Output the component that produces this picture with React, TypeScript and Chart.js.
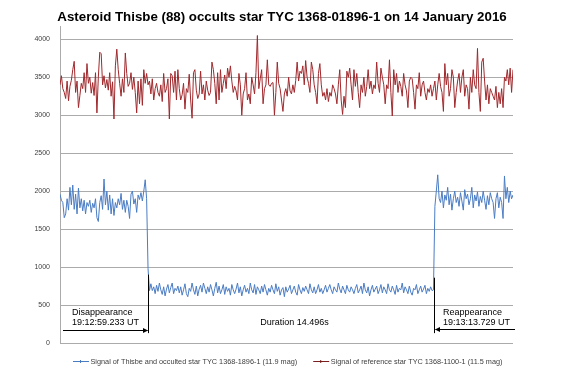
import React, { useEffect, useRef } from 'react';
import { Chart, registerables } from 'chart.js';

Chart.register(...registerables);

const TITLE = 'Asteroid Thisbe (88) occults star TYC 1368-01896-1 on 14 January 2016';
const TARGET_LABEL = 'Signal of Thisbe and occulted star TYC 1368-1896-1 (11.9 mag)';
const REFERENCE_LABEL = 'Signal of reference star TYC 1368-1100-1 (11.5 mag)';
const Y_TICKS = [0, 500, 1000, 1500, 2000, 2500, 3000, 3500, 4000];

// Target star signal before disappearance (frames 0-63)
const targetBefore = [
  1960, 1880, 1850, 1650, 1700, 1900, 1750, 2050, 1820, 2080,
  1760, 1960, 1700, 2040, 1780, 1900, 1740, 1880, 1700, 1850,
  1800, 1880, 1720, 1840, 1780, 1900, 1650, 1600, 1850, 1940,
  1760, 2160, 1820, 2000, 1750, 1950, 1700, 1900, 1680, 1850,
  1780, 1900, 1820, 1970, 1760, 1880, 1720, 1880, 1800, 1640,
  1960, 2000, 1830, 1900, 1720, 1950, 1890, 1980, 1870, 2000,
  2150, 1900, 980, 690,
];

// During occultation (frames 64-263)
const targetDuring = [
  780, 690, 740, 650, 760, 680, 790, 700, 640, 740, 620, 710, 770, 660, 730, 790, 650, 720, 690, 750,
  660, 740, 630, 700, 780, 650, 610, 720, 680, 790, 700, 640, 750, 620, 710, 760, 670, 790, 720, 650,
  740, 670, 770, 700, 620, 720, 800, 660, 750, 650, 700, 770, 640, 740, 680, 720, 630, 770, 700, 650,
  710, 790, 660, 740, 620, 700, 760, 670, 720, 650, 790, 700, 660, 770, 640, 740, 700, 650, 750, 670,
  770, 700, 630, 720, 670, 760, 700, 650, 780, 680, 740, 630, 700, 730, 610, 740, 670, 710, 760, 650,
  700, 750, 670, 630, 770, 700, 650, 730, 680, 750, 700, 650, 780, 700, 660, 740, 650, 700, 770, 670,
  720, 650, 700, 760, 670, 720, 770, 700, 650, 740, 700, 670, 790, 710, 660, 750, 700, 650, 760, 700,
  670, 740, 700, 650, 720, 770, 660, 700, 750, 650, 790, 700, 660, 740, 620, 700, 760, 670, 710, 750,
  650, 700, 770, 660, 740, 700, 650, 780, 700, 670, 750, 700, 640, 760, 670, 720, 700, 790, 660, 740,
  700, 650, 750, 670, 630, 720, 700, 770, 650, 700, 750, 670, 710, 760, 650, 720, 680, 740, 690, 700,
];

// After reappearance (frames 264-319)
const targetAfter = [
  1800, 2000, 2215,
  1900, 1850, 2000, 1780, 1950, 1880, 2050, 1820, 1960, 1750, 1900, 2000, 1850, 1920, 1800, 1980, 1870, 1750, 2020, 1900,
  1960, 1820, 1900, 2050, 1780, 1950, 1870, 1990, 1800, 1930, 1850, 2000, 1880, 1760, 1940, 1820, 1980, 1900, 1850,
  1640, 1900, 1980, 1780, 1920, 1850, 1640, 2200, 1900, 2050, 1850, 2000, 1900, 1950,
];

// Reference star signal (frames 0-319)
const referenceSignal = [
  3400, 3520, 3350, 3300, 3220, 3450, 3190, 3380, 3460, 3600, 3710, 3300, 3450, 3100, 3260, 3420, 3350, 3560, 3300, 3680,
  3420, 3500, 3290, 3430, 3260, 3560, 3030, 3500, 3830, 3810, 3400, 3520, 3360, 3470, 3330, 3560, 3250, 3440, 2950, 3650,
  3870, 3600, 3420, 3250, 3480, 3300, 3820, 3550, 3380, 3420, 3560, 3340, 3500, 3300, 3030, 3450, 3150, 3480, 3130, 3600,
  3420, 3550, 3400, 3450, 3280, 3480, 3200, 3350, 3420, 3300, 3250, 3400, 3180, 3550, 3300, 3350, 3480, 2950, 3550, 3520,
  3300, 3580, 3200, 3600, 3350, 3200, 3270, 3420, 3080, 3350, 3300, 3540, 3200, 2960, 3560, 3600, 3330, 3220, 3280, 3580,
  3280, 3400, 3200, 3450, 3330, 3260, 3300, 3700, 3600, 3420, 3150, 3560, 3200, 3600, 3300, 3420, 3530, 3350, 3620, 3500,
  3650, 3450, 3300, 3380, 3320, 3200, 3550, 3400, 3000, 3280, 3350, 3560, 3200, 3280, 3150, 3500, 3400, 3280, 3560, 4050,
  3350, 3480, 3600, 3150, 3350, 3400, 3730, 3400, 3380, 3420, 3430, 3000, 3300, 3700, 3420, 3350, 3200, 3050, 3280, 3350,
  3250, 3500, 3320, 3280, 3400, 3300, 3460, 3700, 3450, 3580, 3550, 3650, 3400, 3720, 3500, 3420, 3300, 3700, 3600, 3400,
  3300, 3150, 3550, 3680, 3400, 3250, 3300, 3200, 3350, 3180, 3300, 3250, 3400, 3350, 3280, 3150, 3400, 3600, 3200, 3010,
  3250, 3100, 3580, 3500, 3620, 3400, 3200, 3600, 3380, 3550, 3300, 3100, 3400, 3300, 3500, 3250, 3380, 3600, 3350, 3450,
  3280, 3400, 3350, 3700, 3420, 3300, 3620, 3500, 3400, 3150, 3400, 3350, 3730, 3300, 2990, 3600, 3400, 3550, 3300, 3450,
  3380, 3250, 3550, 3400, 3320, 3100, 3450, 3500, 3480, 3300, 3080, 3400, 3350, 3560, 3250, 3400, 3450, 3300, 3200, 3350,
  3300, 3400, 3250, 3350, 3450, 3200, 3400, 3550, 3380, 3300, 3050, 3680, 3400, 3550, 3250, 3350, 3600, 3500, 3100, 3300,
  3450, 3550, 3300, 3500, 3600, 3250, 3400, 3350, 3080, 3500, 3300, 3600, 3400, 3350, 3880, 3300, 3050, 3700, 3750, 3450,
  3200, 3400, 3150, 3350, 3300, 3250, 3200, 3380, 3100, 3300, 3150, 3350, 3100, 3500, 3450, 3600, 3400, 3620, 3300, 3600,
];

const targetSignal = [...targetBefore, ...targetDuring, ...targetAfter];
const frames = referenceSignal.map((_, i) => i);

// Event annotations (frame index, texts)
const DISAPPEARANCE_FRAME = 61.8;
const REAPPEARANCE_FRAME = 263.6;
const DISAPPEARANCE_TEXT = ['Disappearance', '19:12:59.233 UT'];
const REAPPEARANCE_TEXT = ['Reappearance', '19:13:13.729 UT'];
const DURATION_TEXT = 'Duration 14.496s';

const BLUE = '#4A7CC4';
const RED = '#A0282C';

function arrowHead(ctx: CanvasRenderingContext2D, x: number, y: number, dir: number) {
  ctx.beginPath();
  ctx.moveTo(x, y);
  ctx.lineTo(x - dir * 5, y - 2.5);
  ctx.lineTo(x - dir * 5, y + 2.5);
  ctx.closePath();
  ctx.fill();
}

const overlayPlugin = {
  id: 'overlay',
  afterDraw(chart: any) {
    const { ctx, scales } = chart;
    const xs = scales.x;
    const ys = scales.y;
    ctx.save();

    // Title
    ctx.fillStyle = '#000';
    ctx.font = 'bold 13.3px "Liberation Sans", Arial, sans-serif';
    ctx.textAlign = 'center';
    ctx.textBaseline = 'middle';
    ctx.fillText(TITLE, 282, 17);

    // Event markers
    const xd = Math.round(xs.getPixelForValue(DISAPPEARANCE_FRAME)) + 0.5;
    const xr = Math.round(xs.getPixelForValue(REAPPEARANCE_FRAME)) + 0.5;
    ctx.strokeStyle = '#000';
    ctx.fillStyle = '#000';
    ctx.lineWidth = 1;
    ctx.beginPath();
    ctx.moveTo(xd, ys.getPixelForValue(900));
    ctx.lineTo(xd, ys.getPixelForValue(130));
    ctx.moveTo(xr, ys.getPixelForValue(860));
    ctx.lineTo(xr, ys.getPixelForValue(130));
    const yl = Math.round(ys.getPixelForValue(166)) + 0.5;
    const yr = Math.round(ys.getPixelForValue(188)) + 0.5;
    ctx.moveTo(chart.chartArea.left + 3, yl);
    ctx.lineTo(xd - 1, yl);
    ctx.moveTo(chart.chartArea.right + 2, yr);
    ctx.lineTo(xr + 1, yr);
    ctx.stroke();
    arrowHead(ctx, xd - 0.5, yl, 1);
    arrowHead(ctx, xr + 0.5, yr, -1);

    ctx.font = '9px "Liberation Sans", Arial, sans-serif';
    ctx.textAlign = 'left';
    const y1 = ys.getPixelForValue(398);
    const y2 = ys.getPixelForValue(267);
    ctx.fillText(DISAPPEARANCE_TEXT[0], chart.chartArea.left + 12, y1);
    ctx.fillText(DISAPPEARANCE_TEXT[1], chart.chartArea.left + 12, y2);
    ctx.fillText(REAPPEARANCE_TEXT[0], xr + 8.5, y1);
    ctx.fillText(REAPPEARANCE_TEXT[1], xr + 8.5, y2);
    ctx.textAlign = 'center';
    ctx.fillText(DURATION_TEXT, (xd + xr) / 2 + 3, y2);

    // Legend
    ctx.font = '7.3px "Liberation Sans", Arial, sans-serif';
    ctx.textAlign = 'left';
    const ly = 361;
    const items = [
      { label: chart.data.datasets[0].label, color: BLUE },
      { label: chart.data.datasets[1].label, color: '#7A1E1E' },
    ];
    let lx = 73;
    items.forEach((it) => {
      ctx.strokeStyle = it.color;
      ctx.beginPath();
      ctx.moveTo(lx, ly + 0.5);
      ctx.lineTo(lx + 16, ly + 0.5);
      ctx.stroke();
      ctx.fillStyle = it.color;
      ctx.fillRect(lx + 7, ly - 1, 1, 3);
      ctx.fillStyle = '#404040';
      ctx.fillText(it.label, lx + 17.5, ly + 0.5);
      lx += 17.5 + ctx.measureText(it.label).width + 16;
    });

    ctx.restore();
  },
};

export default function App() {
  const ref = useRef<HTMLCanvasElement>(null);

  useEffect(() => {
    if (!ref.current) return;
    const chart = new Chart(ref.current, {
      type: 'line',
      data: {
        labels: frames,
        datasets: [
          {
            label: TARGET_LABEL,
            data: frames.map((f, i) => ({ x: f, y: targetSignal[i] })),
            borderColor: BLUE,
            borderWidth: 1,
            pointRadius: 0,
            tension: 0,
          },
          {
            label: REFERENCE_LABEL,
            data: frames.map((f, i) => ({ x: f, y: referenceSignal[i] })),
            borderColor: RED,
            borderWidth: 1,
            pointRadius: 0,
            tension: 0,
          },
        ],
      },
      options: {
        animation: false,
        responsive: false,
        layout: { padding: { left: 0, right: 54, top: 26, bottom: 35 } },
        plugins: {
          legend: { display: false },
          title: { display: false },
          tooltip: { enabled: false },
        },
        scales: {
          x: { type: 'linear', min: 0, max: frames.length - 1, display: false },
          y: {
            min: 0,
            max: 4175,
            afterBuildTicks: (s: any) => {
              s.ticks = Y_TICKS.map((v) => ({ value: v }));
            },
            afterFit: (s: any) => {
              s.width = 60;
            },
            grid: { color: '#ABABAB', drawTicks: false, lineWidth: 1 },
            border: { display: true, color: '#ABABAB' },
            ticks: {
              font: { family: '"Liberation Sans", Arial, sans-serif', size: 7 },
              color: '#404040',
              padding: 10,
              callback: (v: any) => String(v),
            },
          },
        },
      },
      plugins: [overlayPlugin],
    });
    return () => chart.destroy();
  }, []);

  return (
    <div style={{ position: 'absolute', left: 0, top: 0, width: 567, height: 378, background: '#fff' }}>
      <canvas ref={ref} width={567} height={378} />
    </div>
  );
}
